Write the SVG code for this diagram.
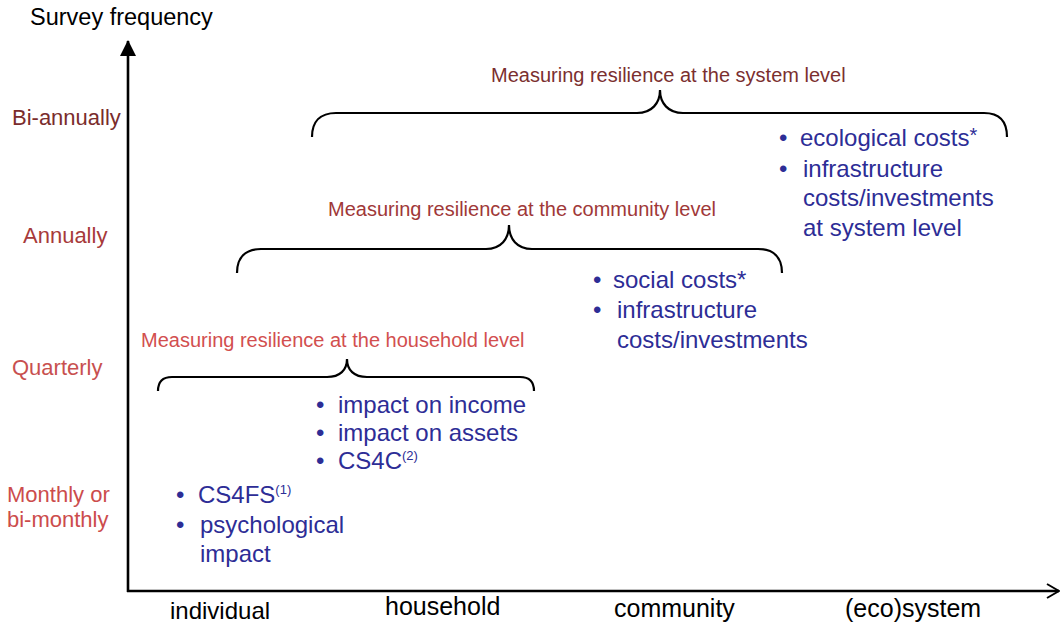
<svg xmlns="http://www.w3.org/2000/svg" width="1061" height="626" viewBox="0 0 1061 626">
<style>
text{font-family:"Liberation Sans",Arial,sans-serif}
.ax{font-size:24px;fill:#000}
.yl{font-size:22px}
.hd{font-size:20px}
.bl{font-size:24px;fill:#2d2d96}
.sup{font-size:13px;fill:#2d2d96}
.brace{fill:none;stroke:#000;stroke-width:2.2}
.axis{stroke:#000;stroke-width:2.6;fill:none}
</style>
<defs>
<marker id="tri" viewBox="0 0 16 16" refX="15" refY="8" markerWidth="16" markerHeight="16" markerUnits="userSpaceOnUse" orient="auto"><path d="M0,0 L16,8 L0,16 Z" fill="#000"/></marker>
<marker id="chev" viewBox="0 0 14 16" refX="13" refY="8" markerWidth="14" markerHeight="16" markerUnits="userSpaceOnUse" orient="auto"><path d="M1,1 L13,8 L1,15" fill="none" stroke="#000" stroke-width="2"/></marker>
</defs>
<rect width="1061" height="626" fill="#fff"/>
<g id="connectors">
<line class="axis" x1="128" y1="592" x2="128" y2="41" marker-end="url(#tri)"/>
<line class="axis" x1="127" y1="591" x2="1059" y2="591" marker-end="url(#chev)"/>
<path class="brace" d="M312,137 C312,122 320,113 336,113 L637,113 C652,113 660,103 660,90 C660,103 668,113 683,113 L984,113 C1000,113 1007,122 1007,137"/>
<path class="brace" d="M237,273 C237,258 245,249 261,249 L486,249 C501,249 509,239 509,225 C509,239 517,249 532,249 L758,249 C774,249 782,258 782,273"/>
<path class="brace" d="M158,391 C158,382 163,377 172,377 L327,377 C340,377 347,370 347,359 C347,370 354,377 367,377 L520,377 C529,377 534,382 534,391"/>
</g>
<g id="axis-labels">
<text class="ax" x="30" y="25" style="font-size:23.5px">Survey frequency</text>
<text class="yl" x="12" y="125" fill="#7a2c2c">Bi-annually</text>
<text class="yl" x="23" y="243" fill="#a73a3a">Annually</text>
<text class="yl" x="12" y="375" fill="#c8504f">Quarterly</text>
<text class="yl" x="7" y="502" fill="#cc4c4c">Monthly or</text>
<text class="yl" x="7" y="527" fill="#cc4c4c">bi-monthly</text>
<text class="ax" x="170" y="619">individual</text>
<text class="ax" x="385" y="615" style="font-size:25px">household</text>
<text class="ax" x="614" y="617" style="font-size:25px">community</text>
<text class="ax" x="845" y="617" style="font-size:25px">(eco)system</text>
</g>
<g id="system-level">
<text class="hd" x="491" y="82" fill="#7b2f2f">Measuring resilience at the system level</text>
<text class="bl" x="779" y="146">•</text>
<text class="bl" x="800" y="146">ecological costs<tspan font-size="20" dy="-4">*</tspan></text>
<text class="bl" x="779" y="177">•</text>
<text class="bl" x="803" y="177">infrastructure</text>
<text class="bl" x="803" y="206">costs/investments</text>
<text class="bl" x="803" y="236">at system level</text>
</g>
<g id="community-level">
<text class="hd" x="328" y="216" fill="#a03838">Measuring resilience at the community level</text>
<text class="bl" x="593" y="288">•</text>
<text class="bl" x="613" y="288">social costs*</text>
<text class="bl" x="593" y="318">•</text>
<text class="bl" x="617" y="318">infrastructure</text>
<text class="bl" x="617" y="348">costs/investments</text>
</g>
<g id="household-level">
<text class="hd" x="141" y="347" fill="#d24f4f">Measuring resilience at the household level</text>
<text class="bl" x="316" y="413">•</text>
<text class="bl" x="338" y="413">impact on income</text>
<text class="bl" x="316" y="441">•</text>
<text class="bl" x="338" y="441">impact on assets</text>
<text class="bl" x="316" y="469">•</text>
<text class="bl" x="338" y="469">CS4C<tspan class="sup" dy="-9">(2)</tspan></text>
</g>
<g id="individual-level">
<text class="bl" x="176" y="503">•</text>
<text class="bl" x="198" y="503">CS4FS<tspan class="sup" dy="-9">(1)</tspan></text>
<text class="bl" x="176" y="533">•</text>
<text class="bl" x="200" y="533">psychological</text>
<text class="bl" x="200" y="562">impact</text>
</g>
</svg>
